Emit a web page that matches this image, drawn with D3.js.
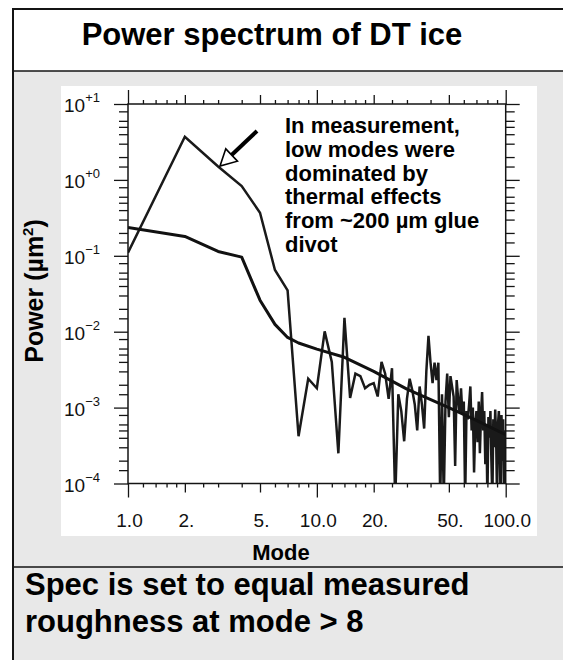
<!DOCTYPE html>
<html>
<head>
<meta charset="utf-8">
<script src="https://cdn.jsdelivr.net/npm/d3@7"></script>
<style>
  html, body { margin: 0; padding: 0; background: #fff; }
  svg { display: block; font-family: "Liberation Sans", Arial, Helvetica, sans-serif; }
</style>
</head>
<body>
<svg id="chart" width="563" height="660"></svg>
<script>
// ---------------- DATA ----------------
const titleText = "Power spectrum of DT ice";
const xLabelText = "Mode";
const yLabelText = "Power (µm²)";
const noteLines = ["In measurement,", "low modes were", "dominated by", "thermal effects", "from ~200 µm glue", "divot"];
const footerLines = ["Spec is set to equal measured", "roughness at mode > 8"];

// measured spectrum, modes 1..100 (µm²)
const measuredModes = [
  1,2,3,4,5,6,7,8,9,10,11,12,13,14,15,16,17,18,19,20,
  21,22,23,24,25,26,27,28,29,30,31,32,33,34,35,36,37,38,39,40,
  41,42,43,44,45,46,47,48,49,50,51,52,53,54,55,56,57,58,59,60,
  61,62,63,64,65,66,67,68,69,70,71,72,73,74,75,76,77,78,79,80,
  81,82,83,84,85,86,87,88,89,90,91,92,93,94,95,96,97,98,99,100];
const measuredValues = [
  0.11, 3.7, 1.5, 0.83, 0.37, 0.065, 0.035, 0.00042, 0.0024, 0.0018,
  0.0101, 0.0040, 0.00025, 0.0152, 0.00134, 0.0028, 0.0026, 0.0018, 0.0020, 0.0021,
  0.0014, 0.0040, 0.0028, 0.0013, 0.0033, 0.00006, 0.0015, 0.0009, 0.00036, 0.0013,
  0.0024, 0.0017, 0.0011, 0.0005, 0.0019, 0.0011, 0.00053, 0.0030, 0.0088, 0.0039,
  0.0021, 0.0039, 0.0023, 0.0039, 0.00006, 0.0015, 0.00006, 0.0012, 0.0028, 0.00075,
  0.0026, 0.0019, 0.0014, 0.00017, 0.0023, 0.0013, 0.00085, 0.0018, 0.0008, 0.0012,
  0.00006, 0.0009, 0.0007, 0.0011, 0.0019, 0.0005, 0.0010, 0.00014, 0.0006, 0.0009,
  0.00035, 0.0012, 0.00025, 0.0008, 0.0016, 0.0005, 0.0009, 0.00018, 0.0006, 0.00006,
  0.00075, 0.0004, 0.0009, 0.0002, 0.00006, 0.0007, 0.0003, 0.00094, 0.0004, 0.00006,
  0.0006, 0.0009, 0.0003, 0.00006, 0.0008, 0.0002, 0.0007, 0.00006, 0.0005, 0.00043];

// specification curve
const specModes  = [1, 2, 3, 4, 5, 6, 7, 8, 10, 14, 20, 30, 50, 70, 100];
const specValues = [0.236, 0.18, 0.114, 0.096, 0.026, 0.0125, 0.0084, 0.0071, 0.0059, 0.0046, 0.0030, 0.00175, 0.0010, 0.00068, 0.00044];

// axis ticks
const xLabelTicks = [1, 2, 5, 10, 20, 50, 100];
const xTickLabels = ["1.0", "2.", "5.", "10.0", "20.", "50.", "100.0"];
const xDecadeTicks = [1, 10, 100];
const xMidTicks = [2, 5, 20, 50];
const xMinorTicks = [1.2,1.4,1.6,1.8,2.5,3,4,6,7,8,9, 12,14,16,18,25,30,40,60,70,80,90];
const yDecadeTicks = [10, 1, 0.1, 0.01, 0.001, 0.0001];
const yTickExponents = ["+1", "+0", "\u22121", "\u22122", "\u22123", "\u22124"];
const yMinorSteps = [1.5, 2, 3, 4, 5, 6, 8];
const yMinorTicks = [];
[1, 0.1, 0.01, 0.001, 0.0001].forEach(d => yMinorSteps.forEach(k => yMinorTicks.push(+(d * k).toPrecision(3))));

// ---------------- LAYOUT ----------------
const W = 563, H = 660;
const plot = { left: 128, right: 505.7, top: 104, bottom: 483.5 };
const svg = d3.select("#chart");
const ink = "#141414";

// background panels
svg.append("rect").attr("x", 0).attr("y", 0).attr("width", W).attr("height", H).attr("fill", "#fff");
svg.append("rect").attr("x", 13).attr("y", 71).attr("width", W).attr("height", H).attr("fill", "#e8e8e8");
svg.append("rect").attr("x", 61).attr("y", 86).attr("width", 476).attr("height", 450).attr("fill", "#fff");
svg.append("rect").attr("x", 13).attr("y", 9).attr("width", W + 20).attr("height", H + 20)
  .attr("fill", "none").attr("stroke", ink).attr("stroke-width", 2);
svg.append("line").attr("x1", 13).attr("x2", W).attr("y1", 71).attr("y2", 71).attr("stroke", ink).attr("stroke-width", 1.5);
svg.append("line").attr("x1", 13).attr("x2", W).attr("y1", 567).attr("y2", 567).attr("stroke", ink).attr("stroke-width", 1.5);

// title
svg.append("text").attr("x", 272).attr("y", 45).attr("text-anchor", "middle")
  .attr("font-size", 31).attr("font-weight", "bold").attr("fill", "#000").text(titleText);

// footer
svg.append("g").selectAll("text").data(footerLines).join("text")
  .attr("x", 25).attr("y", (d, i) => 595 + i * 37)
  .attr("font-size", 31).attr("font-weight", "bold").attr("fill", "#000").text(d => d);

// scales
const x = d3.scaleLog().domain([1, 100]).range([plot.left, plot.right]);
const y = d3.scaleLog().domain([1e-4, 10]).range([plot.bottom, plot.top]);

// clip
svg.append("defs").append("clipPath").attr("id", "clip")
  .append("rect").attr("x", plot.left).attr("y", plot.top)
  .attr("width", plot.right - plot.left).attr("height", plot.bottom - plot.top);

// data lines
const line = d3.line().x(d => x(d[0])).y(d => y(d[1]));
const measured = measuredModes.map((m, i) => [m, measuredValues[i]]);
const spec = specModes.map((m, i) => [m, specValues[i]]);

const lines = svg.append("g").attr("clip-path", "url(#clip)");
lines.append("path").datum(measured).attr("d", line)
  .attr("fill", "none").attr("stroke", "#1a1a1a").attr("stroke-width", 2.5).attr("stroke-linejoin", "miter").attr("stroke-miterlimit", 3);
lines.append("path").datum(spec).attr("d", line)
  .attr("fill", "none").attr("stroke", "#111").attr("stroke-width", 3).attr("stroke-linejoin", "round");

// axes (ticks drawn with d3 axes, outward)
function tickLayer(axisGen, vals, size, transform) {
  svg.append("g").attr("transform", transform)
    .call(axisGen.tickValues(vals).tickSize(size).tickSizeOuter(0).tickFormat(""))
    .call(g => { g.select(".domain").remove(); g.selectAll("line").attr("stroke", ink).attr("stroke-width", 1.3); });
}
[[xDecadeTicks, 14], [xMidTicks, 9], [xMinorTicks, 4]].forEach(([v, s]) => {
  tickLayer(d3.axisBottom(x), v, s, `translate(0,${plot.bottom})`);
  tickLayer(d3.axisTop(x), v, s, `translate(0,${plot.top})`);
});
[[yDecadeTicks, 14], [yMinorTicks, 9]].forEach(([v, s]) => {
  tickLayer(d3.axisLeft(y), v, s, `translate(${plot.left},0)`);
  tickLayer(d3.axisRight(y), v, s, `translate(${plot.right},0)`);
});
// frame
svg.append("rect").attr("x", plot.left).attr("y", plot.top)
  .attr("width", plot.right - plot.left).attr("height", plot.bottom - plot.top)
  .attr("fill", "none").attr("stroke", ink).attr("stroke-width", 1.5);

// x tick labels
svg.append("g").selectAll("text").data(xLabelTicks).join("text")
  .attr("x", d => x(d) + 1.5).attr("y", 527).attr("text-anchor", "middle")
  .attr("font-size", 19).attr("fill", "#111").text((d, i) => xTickLabels[i]);

// y tick labels with superscript exponents
const yl = svg.append("g").selectAll("text").data(yDecadeTicks).join("text")
  .attr("x", 100).attr("y", d => y(d) + 8).attr("text-anchor", "end").attr("fill", "#111");
yl.append("tspan").attr("font-size", 19).text("10");
yl.append("tspan").attr("font-size", 13).attr("dy", -10).text((d, i) => yTickExponents[i]);

// axis titles
svg.append("text").attr("x", 281).attr("y", 560).attr("text-anchor", "middle")
  .attr("font-size", 22).attr("font-weight", "bold").attr("fill", "#000").text(xLabelText);
const yt = svg.append("text").attr("transform", "translate(43,291) rotate(-90)").attr("text-anchor", "middle")
  .attr("font-size", 25).attr("font-weight", "bold").attr("fill", "#000");
yt.append("tspan").text("Power (µm");
yt.append("tspan").attr("font-size", 15).attr("dy", -10).text("2");
yt.append("tspan").attr("dy", 10).text(")");

// annotation
svg.append("g").selectAll("text").data(noteLines).join("text")
  .attr("x", 285).attr("y", (d, i) => 133 + i * 23.8)
  .attr("font-size", 22).attr("font-weight", "bold").attr("fill", "#000").text(d => d);

// arrow (open head)
const tail = [257, 131], tip = [220, 166];
const dx = tip[0] - tail[0], dy = tip[1] - tail[1], len = Math.hypot(dx, dy);
const ux = dx / len, uy = dy / len, px = -uy, py = ux;
const headLen = 16, headHalf = 8.5;
const base = [tip[0] - ux * headLen, tip[1] - uy * headLen];
svg.append("line").attr("x1", tail[0]).attr("y1", tail[1]).attr("x2", base[0]).attr("y2", base[1])
  .attr("stroke", "#000").attr("stroke-width", 4);
svg.append("path")
  .attr("d", d3.line()([tip, [base[0] + px * headHalf, base[1] + py * headHalf], [base[0] - px * headHalf, base[1] - py * headHalf]]) + "Z")
  .attr("fill", "#fff").attr("stroke", "#000").attr("stroke-width", 1.6).attr("stroke-linejoin", "miter");
</script>
</body>
</html>
